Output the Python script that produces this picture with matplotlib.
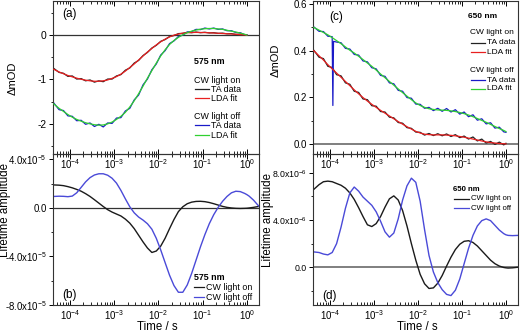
import numpy as np
import matplotlib
matplotlib.use("Agg")
import matplotlib.pyplot as plt
from matplotlib.ticker import LogLocator, LogFormatterSciNotation, FixedLocator, NullFormatter

plt.rcParams['font.family'] = ['Liberation Sans', 'DejaVu Sans']
plt.rcParams['mathtext.fontset'] = 'custom'
plt.rcParams['mathtext.rm'] = 'Liberation Sans'
plt.rcParams['mathtext.it'] = 'Liberation Sans:italic'
plt.rcParams['mathtext.bf'] = 'Liberation Sans:bold'

# ---------------- data ----------------
t_top = [4.27e-5, 5.62e-5, 7.08e-5, 8.91e-5, 1.12e-4, 1.41e-4, 1.78e-4, 2.24e-4, 2.82e-4,
         3.55e-4, 4.47e-4, 5.62e-4, 7.08e-4, 8.91e-4, 1.12e-3, 1.41e-3, 1.78e-3, 2.24e-3,
         2.82e-3, 3.55e-3, 4.47e-3, 5.62e-3, 7.08e-3, 8.91e-3, 1.12e-2, 1.41e-2, 1.78e-2,
         2.24e-2, 2.82e-2, 3.55e-2, 4.47e-2, 5.62e-2, 7.08e-2, 8.91e-2, 0.112, 0.141, 0.178,
         0.224, 0.282, 0.355, 0.447, 0.562, 0.708, 0.891, 1.0]
t_bot = t_top + [1.12, 1.41, 1.86]

# (a) 575 nm, delta mOD
a_on_fit = [-0.77, -0.83, -0.87, -0.91, -0.94, -0.97, -0.995, -1.015, -1.03, -1.04, -1.04, -1.03,
            -1.01, -0.975, -0.935, -0.88, -0.81, -0.73, -0.65, -0.56, -0.47, -0.38, -0.30, -0.22,
            -0.15, -0.09, -0.04, 0.0, 0.025, 0.045, 0.055, 0.06, 0.062, 0.06, 0.058, 0.053, 0.048,
            0.042, 0.037, 0.032, 0.026, 0.02, 0.012, 0.005, 0.0]
a_on_ta = [-0.75, -0.84, -0.86, -0.93, -0.92, -0.99, -0.98, -1.03, -1.01, -1.06, -1.03, -1.05,
           -0.99, -0.99, -0.92, -0.89, -0.79, -0.74, -0.63, -0.57, -0.46, -0.39, -0.29, -0.23,
           -0.14, -0.10, -0.03, -0.01, 0.035, 0.04, 0.065, 0.055, 0.07, 0.055, 0.065, 0.05, 0.055,
           0.04, 0.045, 0.03, 0.035, 0.015, 0.02, 0.0, 0.005]
a_off_fit = [-1.55, -1.65, -1.72, -1.79, -1.85, -1.90, -1.94, -1.975, -2.0, -2.02, -2.03, -2.025,
             -2.0, -1.96, -1.90, -1.83, -1.74, -1.62, -1.48, -1.32, -1.15, -0.97, -0.80, -0.63,
             -0.47, -0.33, -0.21, -0.12, -0.05, 0.01, 0.055, 0.09, 0.115, 0.135, 0.145, 0.15, 0.15,
             0.14, 0.13, 0.11, 0.09, 0.07, 0.045, 0.02, 0.0]
a_off_ta = [-1.53, -1.68, -1.70, -1.82, -1.83, -1.93, -1.92, -2.01, -1.98, -2.06, -2.01, -2.07,
            -1.98, -1.99, -1.87, -1.86, -1.71, -1.65, -1.46, -1.35, -1.12, -0.99, -0.78, -0.65,
            -0.45, -0.35, -0.19, -0.13, -0.03, 0.0, 0.07, 0.08, 0.13, 0.125, 0.16, 0.14, 0.16,
            0.13, 0.14, 0.10, 0.10, 0.06, 0.055, 0.01, 0.005]

# (c) 650 nm, delta mOD
c_on_fit = [0.40, 0.378, 0.36, 0.34, 0.322, 0.304, 0.286, 0.268, 0.25, 0.232, 0.215, 0.199, 0.184,
            0.17, 0.157, 0.144, 0.132, 0.12, 0.108, 0.096, 0.085, 0.074, 0.064, 0.054, 0.047,
            0.042, 0.04, 0.039, 0.039, 0.039, 0.038, 0.037, 0.035, 0.032, 0.029, 0.025, 0.021,
            0.017, 0.013, 0.009, 0.006, 0.004, 0.002, 0.001, 0.0]
c_on_ta = [0.402, 0.372, 0.366, 0.333, 0.328, 0.297, 0.292, 0.262, 0.256, 0.226, 0.221, 0.193,
           0.19, 0.164, 0.162, 0.139, 0.137, 0.115, 0.112, 0.092, 0.089, 0.07, 0.067, 0.051, 0.05,
           0.038, 0.045, 0.036, 0.044, 0.035, 0.043, 0.032, 0.04, 0.027, 0.034, 0.021, 0.03,
           0.013, 0.021, 0.004, 0.011, -0.002, 0.008, -0.004, 0.003]
c_off_fit = [0.50, 0.488, 0.478, 0.468, 0.456, 0.443, 0.43, 0.416, 0.402, 0.39, 0.376, 0.362,
             0.347, 0.333, 0.317, 0.30, 0.284, 0.268, 0.252, 0.236, 0.22, 0.205, 0.19, 0.176,
             0.165, 0.157, 0.151, 0.148, 0.146, 0.145, 0.144, 0.142, 0.139, 0.135, 0.13, 0.124,
             0.117, 0.109, 0.101, 0.093, 0.084, 0.075, 0.066, 0.058, 0.053]
t_c_off_ta = [4.27e-5, 5.62e-5, 7.08e-5, 8.91e-5, 1.12e-4, 1.16e-4, 1.20e-4, 1.41e-4, 1.78e-4,
              2.24e-4, 2.82e-4, 3.55e-4, 4.47e-4, 5.62e-4, 7.08e-4, 8.91e-4, 1.12e-3, 1.41e-3,
              1.78e-3, 2.24e-3, 2.82e-3, 3.55e-3, 4.47e-3, 5.62e-3, 7.08e-3, 8.91e-3, 1.12e-2,
              1.41e-2, 1.78e-2, 2.24e-2, 2.82e-2, 3.55e-2, 4.47e-2, 5.62e-2, 7.08e-2, 8.91e-2,
              0.112, 0.141, 0.178, 0.224, 0.282, 0.355, 0.447, 0.562, 0.708, 0.891, 1.0]
c_off_ta = [0.502, 0.483, 0.482, 0.462, 0.46, 0.165, 0.44, 0.437, 0.434, 0.41, 0.407, 0.384,
            0.381, 0.356, 0.352, 0.327, 0.322, 0.294, 0.29, 0.262, 0.258, 0.23, 0.226, 0.199,
            0.196, 0.171, 0.17, 0.153, 0.157, 0.143, 0.153, 0.14, 0.152, 0.137, 0.147, 0.128,
            0.137, 0.117, 0.125, 0.102, 0.108, 0.086, 0.091, 0.068, 0.072, 0.052, 0.05]

# (b) 575 nm lifetime amplitude (x1e-5)
b_on = [1.90, 1.88, 1.84, 1.76, 1.66, 1.53, 1.38, 1.18, 0.95, 0.68, 0.40, 0.12, -0.14, -0.34,
        -0.50, -0.66, -0.92, -1.25, -1.70, -2.25, -2.8, -3.3, -3.67, -3.55, -3.15, -2.5, -1.7,
        -0.95, -0.3, 0.1, 0.35, 0.48, 0.54, 0.55, 0.52, 0.45, 0.35, 0.24, 0.13, 0.05, 0.0, -0.03,
        -0.04, -0.03, -0.02, 0.0, 0.05, 0.13]
b_off = [0.95, 0.97, 0.96, 0.93, 0.98, 1.25, 1.7, 2.15, 2.5, 2.72, 2.82, 2.82, 2.7, 2.45, 2.05,
         1.45, 0.75, 0.1, -0.4, -0.75, -1.0, -1.3, -1.75, -2.5, -3.45, -4.5, -5.55, -6.4, -6.95,
         -6.95, -6.35, -5.4, -4.3, -3.2, -2.2, -1.3, -0.55, 0.05, 0.55, 0.95, 1.25, 1.38, 1.35,
         1.2, 1.1, 0.98, 0.65, 0.15]

# (d) 650 nm lifetime amplitude (x1e-6)
d_on = [6.6, 7.0, 7.25, 7.3, 7.25, 7.1, 6.95, 6.7, 6.3, 5.75, 5.05, 4.3, 3.6, 3.45, 3.7, 4.3,
        5.1, 5.8, 6.05, 5.7, 4.8, 3.5, 2.0, 0.6, -0.6, -1.4, -1.8, -1.75, -1.35, -0.7, 0.1, 0.85,
        1.5, 1.95, 2.2, 2.25, 2.1, 1.8, 1.4, 1.0, 0.6, 0.3, 0.1, -0.02, -0.05, -0.07, -0.05, 0.0]
d_off = [1.3, 1.25, 1.12, 1.05, 1.25, 2.0, 3.4, 5.0, 6.3, 6.8, 6.45, 5.95, 5.6, 5.25, 4.7, 3.9,
         3.0, 2.55, 2.9, 4.1, 5.7, 6.9, 7.55, 7.2, 5.6, 3.2, 1.0, -0.4, -1.3, -1.9, -2.3, -2.4,
         -1.95, -1.0, 0.3, 1.6, 2.7, 3.5, 3.95, 4.1, 3.95, 3.55, 3.15, 2.85, 2.75, 2.7, 2.68, 2.7]

xticks = [1e-4, 1e-3, 1e-2, 1e-1, 1e0]

# ---------------- figure ----------------
W, H = 520, 335
fig = plt.figure(figsize=(W / 100, H / 100), dpi=100)


def rect(x0, y0, x1, y1):
    return [x0 / W, 1 - y1 / H, (x1 - x0) / W, (y1 - y0) / H]


def ftext(x, y, s, **kw):
    fig.text(x / W, 1 - y / H, s, **kw)


axA = fig.add_axes(rect(53, 1, 259, 154))
axB = fig.add_axes(rect(53, 154, 259, 305))
axC = fig.add_axes(rect(313, 1, 518, 154))
axD = fig.add_axes(rect(313, 154, 518, 305))

for ax in (axA, axC):
    ax.set_zorder(3)
    ax.patch.set_alpha(0)
for ax in (axB, axD):
    ax.set_zorder(1)

XLIM = (4.1e-5, 1.88)

for ax, yfs in ((axA, 7.4), (axB, 6.9), (axC, 7.0), (axD, 6.3)):
    ax.set_xscale('log')
    ax.set_xlim(*XLIM)
    ax.xaxis.set_major_locator(FixedLocator(xticks))
    ax.xaxis.set_major_formatter(LogFormatterSciNotation())
    ax.xaxis.set_minor_locator(LogLocator(base=10, subs=np.arange(2, 10), numticks=20))
    ax.xaxis.set_minor_formatter(NullFormatter())
    ax.tick_params(axis='x', which='both', direction='in', top=True, bottom=True,
                   labelsize=7.0, pad=2)
    ax.tick_params(axis='x', which='major', length=3.5, width=0.7)
    ax.tick_params(axis='x', which='minor', length=2, width=0.6)
    ax.tick_params(axis='y', which='both', direction='out', labelsize=yfs, pad=1.5,
                   right=False)
    ax.tick_params(axis='y', which='major', length=3, width=0.7)
    ax.tick_params(axis='y', which='minor', length=1.8, width=0.6)
    for s in ax.spines.values():
        s.set_linewidth(0.8)
        s.set_color('#333333')

axA.axhline(0, color='#333333', lw=0.9, zorder=1)
axB.axhline(0, color='#333333', lw=0.9, zorder=1)
axC.axhline(0, color='#6a6a6a', lw=1.2, zorder=1)
axD.axhline(0, color='#6a6a6a', lw=1.2, zorder=1)

# ---- panel (a) ----
axA.plot(t_top, a_on_ta, color='#222222', lw=0.9, zorder=2)
axA.plot(t_top, a_on_fit, color='#e82020', lw=0.9, zorder=3)
axA.plot(t_top, a_off_ta, color='#1a1ac8', lw=0.9, zorder=2)
axA.plot(t_top, a_off_fit, color='#30d030', lw=0.9, zorder=3)
axA.set_ylim(-2.68, 0.77)
axA.set_yticks([-2, -1, 0])
axA.set_yticklabels(['-2', '-1', '0'])
axA.yaxis.set_minor_locator(FixedLocator([-2.5, -1.5, -0.5, 0.5]))

# ---- panel (c) ----
axC.plot(t_top, c_on_ta, color='#222222', lw=0.9, zorder=2)
axC.plot(t_top, c_on_fit, color='#e82020', lw=0.9, zorder=3)
axC.plot(t_c_off_ta, c_off_ta, color='#1a1ac8', lw=0.9, zorder=2)
axC.plot(t_top, c_off_fit, color='#30d030', lw=0.9, zorder=3)
axC.set_ylim(-0.043, 0.613)
axC.set_yticks([0.0, 0.2, 0.4, 0.6])
axC.set_yticklabels(['0.0', '0.2', '0.4', '0.6'])
axC.yaxis.set_minor_locator(FixedLocator([0.1, 0.3, 0.5]))

# ---- panel (b) ----
axB.plot(t_bot, np.array(b_on) * 1e-5, color='#1a1a1a', lw=1.0)
axB.plot(t_bot, np.array(b_off) * 1e-5, color='#4a4ad8', lw=1.0)
axB.set_ylim(-8e-5, 4.45e-5)
axB.set_yticks([-8e-5, -4e-5, 0, 4e-5])
axB.set_yticklabels([r'-8.0x10$^{-5}$', r'-4.0x10$^{-5}$', '0.0', r'4.0x10$^{-5}$'])
axB.yaxis.set_minor_locator(FixedLocator([-6e-5, -2e-5, 2e-5]))

# ---- panel (d) ----
axD.plot(t_bot, np.array(d_on) * 1e-6, color='#1a1a1a', lw=1.0)
axD.plot(t_bot, np.array(d_off) * 1e-6, color='#4a4ad8', lw=1.0)
axD.set_ylim(-3.2e-6, 9.6e-6)
axD.set_yticks([0, 4e-6, 8e-6])
axD.set_yticklabels(['0.0', r'4.0x10$^{-6}$', r'8.0x10$^{-6}$'])
axD.yaxis.set_minor_locator(FixedLocator([-2e-6, 2e-6, 6e-6]))

# ---- axis titles ----
ftext(13, 78, 'ΔmOD', fontsize=8, rotation=90, ha='center', va='center')
ftext(276, 60, 'ΔmOD', fontsize=8, rotation=90, ha='center', va='center')
ftext(5, 210, 'Lifetime amplitude', fontsize=8.3, rotation=90, ha='center', va='center')
ftext(268, 220, 'Lifetime amplitude', fontsize=8.3, rotation=90, ha='center', va='center')
ftext(157, 327, 'Time / s', fontsize=8.3, ha='center', va='center')
ftext(417, 327, 'Time / s', fontsize=8.3, ha='center', va='center')


# ---- panel letters ----
def pix(ax, x, y):
    b = ax.get_position()
    return ((x / W) - b.x0) / b.width, ((1 - y / H) - b.y0) / b.height


for ax, lab, (x, y) in ((axA, '(a)', (62, 14)), (axB, '(b)', (62, 295)),
                        (axC, '(c)', (329, 17)), (axD, '(d)', (322, 296))):
    fx, fy = pix(ax, x, y)
    ax.text(fx, fy, lab, transform=ax.transAxes, fontsize=8.5, ha='left', va='center')


def legend_block(ax, x0, entries, fs, title=None, title_y=None, line_len=14, gap=2):
    if title is not None:
        fx, fy = pix(ax, x0, title_y)
        ax.text(fx, fy, title, transform=ax.transAxes, fontsize=fs, fontweight='bold',
                ha='left', va='center')
    for kind, txt, y, color, indent in entries:
        if kind == 'head':
            fx, fy = pix(ax, x0 + indent, y)
            ax.text(fx, fy, txt, transform=ax.transAxes, fontsize=fs, ha='left', va='center')
        else:
            fx0, fy = pix(ax, x0 + indent, y)
            fx1, _ = pix(ax, x0 + indent + line_len, y)
            ax.plot([fx0, fx1], [fy, fy], transform=ax.transAxes, color=color, lw=0.9,
                    clip_on=False, zorder=5)
            fx2, _ = pix(ax, x0 + indent + line_len + gap, y)
            ax.text(fx2, fy, txt, transform=ax.transAxes, fontsize=fs, ha='left', va='center')


legend_block(axA, 194, [
    ('head', 'CW light on', 80, None, 0),
    ('line', 'TA data', 89, '#222222', 1),
    ('line', 'LDA fit', 98, '#e82020', 1),
    ('head', 'CW light off', 116, None, 0),
    ('line', 'TA data', 125, '#1a1ac8', 1),
    ('line', 'LDA fit', 135, '#30d030', 1),
], fs=6.4, title='575 nm', title_y=61)

legend_block(axC, 468, [
    ('head', 'CW light on', 33, None, 2),
    ('line', 'TA data', 43, '#222222', 3),
    ('line', 'LDA fit', 52, '#e82020', 3),
    ('head', 'CW light off', 71, None, 2),
    ('line', 'TA data', 80, '#1a1ac8', 3),
    ('line', 'LDA fit', 89, '#30d030', 3),
], fs=6.0, title='650 nm', title_y=16)

legend_block(axB, 194, [
    ('line', 'CW light on', 287, '#1a1a1a', 0),
    ('line', 'CW light off', 297, '#4a4ad8', 0),
], fs=6.4, title='575 nm', title_y=277, line_len=10, gap=2)

legend_block(axD, 453, [
    ('line', 'CW light on', 199, '#1a1a1a', 1),
    ('line', 'CW light off', 208, '#4a4ad8', 1),
], fs=5.6, title='650 nm', title_y=189, line_len=15, gap=2)

fig.savefig('out.png', dpi=100)
